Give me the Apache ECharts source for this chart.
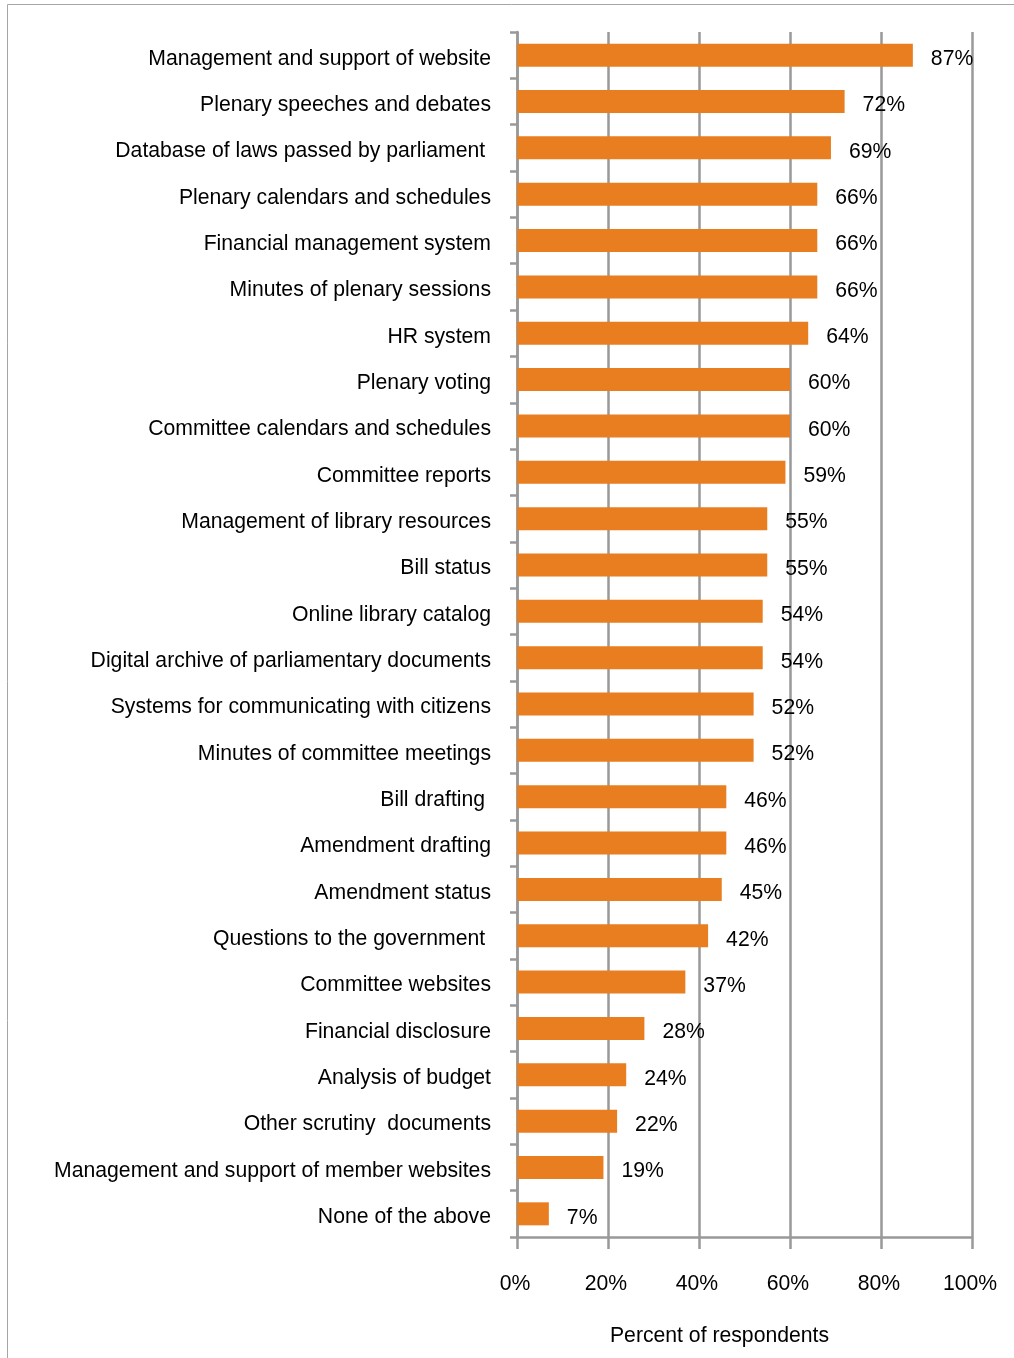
<!DOCTYPE html>
<html>
<head>
<meta charset="utf-8">
<script src="https://cdn.jsdelivr.net/npm/echarts@6/dist/echarts.min.js"></script>
<style>
html,body{margin:0;padding:0;background:#fff;}
#chart{width:1014px;height:1358px;}
</style>
</head>
<body>
<div id="chart"></div>
<script>
const categories = [
  "Management and support of website",
  "Plenary speeches and debates",
  "Database of laws passed by parliament ",
  "Plenary calendars and schedules",
  "Financial management system",
  "Minutes of plenary sessions",
  "HR system",
  "Plenary voting",
  "Committee calendars and schedules",
  "Committee reports",
  "Management of library resources",
  "Bill status",
  "Online library catalog",
  "Digital archive of parliamentary documents",
  "Systems for communicating with citizens",
  "Minutes of committee meetings",
  "Bill drafting ",
  "Amendment drafting",
  "Amendment status",
  "Questions to the government ",
  "Committee websites",
  "Financial disclosure",
  "Analysis of budget",
  "Other scrutiny  documents",
  "Management and support of member websites",
  "None of the above"
];
const values = [87,72,69,66,66,66,64,60,60,59,55,55,54,54,52,52,46,46,45,42,37,28,24,22,19,7];
const xTicks = [0,20,40,60,80,100];

const chart = echarts.init(document.getElementById('chart'));
const FONT = '"Liberation Sans", Arial, sans-serif';
const FS = 21.2;
const GRAY = '#999999';
chart.setOption({
  animation:false,
  backgroundColor:'#fff',
  textStyle:{fontFamily:FONT},
  graphic:[{
    type:'rect', shape:{x:7.5,y:4.5,width:1100,height:1400},
    style:{fill:'none',stroke:'#a6a6a6',lineWidth:1}, silent:true
  }],
  grid:{left:517,right:42,top:32,bottom:121,containLabel:false},
  xAxis:{
    type:'value', min:xTicks[0], max:xTicks[xTicks.length-1], interval:20,
    axisLine:{show:true,lineStyle:{color:GRAY,width:2.5}},
    axisTick:{show:true,length:12,lineStyle:{color:GRAY,width:2.5}},
    splitLine:{show:true,lineStyle:{color:GRAY,width:2.5}},
    axisLabel:{margin:37,fontSize:FS,color:'#000',fontFamily:FONT,formatter:v=>v+'%',padding:[0,4,0,0]},
    name:'Percent of respondents', nameLocation:'middle', nameGap:89,
    nameTextStyle:{fontSize:FS,color:'#000',fontFamily:FONT,padding:[0,50,0,0]}
  },
  yAxis:{
    type:'category', data:categories, inverse:true,
    axisLine:{show:true,lineStyle:{color:GRAY,width:2.5}},
    axisTick:{show:true,length:7,lineStyle:{color:GRAY,width:2.5}},
    axisLabel:{margin:26,fontSize:FS,color:'#000',fontFamily:FONT,verticalAlign:'top',lineHeight:7},
    splitLine:{show:false}
  },
  series:[{
    type:'bar', data:values, barWidth:23,
    itemStyle:{color:'#E87E1F'},
    label:{show:true,position:'right',distance:18,offset:[0,4],fontSize:FS,color:'#000',fontFamily:FONT,formatter:p=>p.value+'%'}
  }]
});
</script>
</body>
</html>
